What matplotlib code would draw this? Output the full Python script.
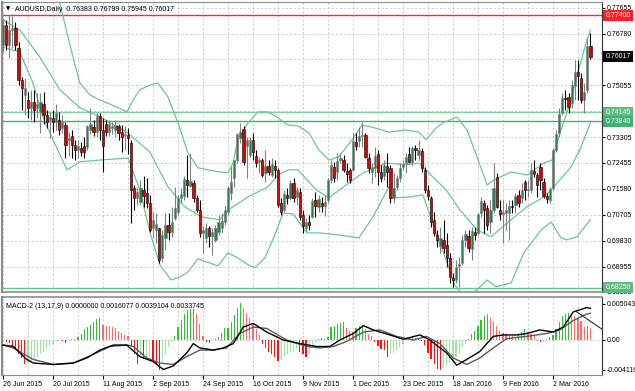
import numpy as np
import matplotlib.pyplot as plt
import matplotlib.transforms as mtransforms

plt.rcParams['font.family'] = ['Liberation Sans', 'DejaVu Sans']

# ---- AUDUSD daily candles ----
opens = [0.7641, 0.7708, 0.7641, 0.7691, 0.7698, 0.7631, 0.7523, 0.7473, 0.7456, 0.7429,
         0.7449, 0.7429, 0.7416, 0.7443, 0.7406, 0.7389, 0.7396, 0.7382, 0.7389, 0.7362,
         0.7372, 0.7322, 0.7335, 0.7305, 0.7288, 0.7295, 0.7301, 0.7298, 0.7355, 0.7365,
         0.7348, 0.7402, 0.7355, 0.7375, 0.7348, 0.7362, 0.7355, 0.7369, 0.7348, 0.7338,
         0.7338, 0.7312, 0.7160, 0.7127, 0.7113, 0.7154, 0.7144, 0.7110, 0.7026, 0.7019,
         0.7026, 0.6925, 0.6992, 0.7036, 0.7012, 0.7060, 0.7080, 0.7127, 0.7133, 0.7187,
         0.7167, 0.7177, 0.7127, 0.7086, 0.7009, 0.6992, 0.7026, 0.6999, 0.6986, 0.7012,
         0.7026, 0.7046, 0.7080, 0.7144, 0.7194, 0.7254, 0.7328, 0.7359, 0.7301, 0.7271,
         0.7322, 0.7268, 0.7248, 0.7254, 0.7211, 0.7234, 0.7204, 0.7234, 0.7221, 0.7110,
         0.7086, 0.7137, 0.7127, 0.7177, 0.7130, 0.7147, 0.7070, 0.7026, 0.7046, 0.7063,
         0.7120, 0.7097, 0.7110, 0.7100, 0.7120, 0.7187, 0.7231, 0.7214, 0.7254, 0.7254,
         0.7217, 0.7221, 0.7221, 0.7315, 0.7318, 0.7335, 0.7338, 0.7261, 0.7214, 0.7228,
         0.7275, 0.7214, 0.7201, 0.7234, 0.7228, 0.7127, 0.7164, 0.7194, 0.7231, 0.7244,
         0.7275, 0.7248, 0.7295, 0.7271, 0.7285, 0.7221, 0.7154, 0.7127, 0.7053, 0.7002,
         0.6965, 0.6986, 0.6969, 0.6925, 0.6858, 0.6851, 0.6898, 0.6908, 0.6986, 0.6999,
         0.6955, 0.7012, 0.7009, 0.7076, 0.7110, 0.7093, 0.7046, 0.7086, 0.7197, 0.7086,
         0.7073, 0.7076, 0.7076, 0.7100, 0.7103, 0.7137, 0.7127, 0.7180, 0.7154, 0.7154,
         0.7217, 0.7204, 0.7231, 0.7180, 0.7133, 0.7120, 0.7160, 0.7288, 0.7345, 0.7412,
         0.7463, 0.7466, 0.7446, 0.7503, 0.7550, 0.7530, 0.7456, 0.7490, 0.76383]
highs = [0.7732, 0.7725, 0.7742, 0.7738, 0.7718, 0.7651, 0.7533, 0.7530, 0.7483, 0.7490,
         0.7490, 0.7480, 0.7480, 0.7483, 0.7422, 0.7416, 0.7422, 0.7443, 0.7416, 0.7406,
         0.7382, 0.7348, 0.7355, 0.7322, 0.7322, 0.7315, 0.7332, 0.7372, 0.7429, 0.7389,
         0.7412, 0.7412, 0.7396, 0.7389, 0.7389, 0.7382, 0.7389, 0.7375, 0.7372, 0.7369,
         0.7362, 0.7322, 0.7170, 0.7164, 0.7187, 0.7201, 0.7194, 0.7137, 0.7080, 0.7076,
         0.7026, 0.7019, 0.7076, 0.7076, 0.7097, 0.7164, 0.7137, 0.7160, 0.7201, 0.7271,
         0.7278, 0.7187, 0.7137, 0.7120, 0.7033, 0.7043, 0.7033, 0.7026, 0.7036, 0.7070,
         0.7076, 0.7100, 0.7167, 0.7231, 0.7254, 0.7345, 0.7379, 0.7369, 0.7332, 0.7332,
         0.7345, 0.7288, 0.7265, 0.7261, 0.7288, 0.7254, 0.7261, 0.7254, 0.7228, 0.7127,
         0.7154, 0.7160, 0.7187, 0.7194, 0.7164, 0.7160, 0.7086, 0.7060, 0.7070, 0.7127,
         0.7147, 0.7137, 0.7130, 0.7137, 0.7194, 0.7254, 0.7248, 0.7278, 0.7278, 0.7271,
         0.7244, 0.7228, 0.7345, 0.7345, 0.7365, 0.7382, 0.7345, 0.7278, 0.7244, 0.7298,
         0.7288, 0.7238, 0.7254, 0.7278, 0.7238, 0.7211, 0.7204, 0.7244, 0.7254, 0.7278,
         0.7298, 0.7301, 0.7305, 0.7322, 0.7295, 0.7231, 0.7170, 0.7133, 0.7080, 0.7019,
         0.7029, 0.7053, 0.7009, 0.6942, 0.6875, 0.6918, 0.6928, 0.7002, 0.7019, 0.7019,
         0.7029, 0.7029, 0.7076, 0.7130, 0.7120, 0.7103, 0.7120, 0.7244, 0.7211, 0.7120,
         0.7120, 0.7110, 0.7120, 0.7120, 0.7144, 0.7154, 0.7177, 0.7187, 0.7187, 0.7244,
         0.7254, 0.7211, 0.7244, 0.7194, 0.7144, 0.7164, 0.7295, 0.7355, 0.7429, 0.7480,
         0.7490, 0.7480, 0.7523, 0.7590, 0.7590, 0.7547, 0.7513, 0.7664, 0.76799]
lows = [0.7617, 0.7624, 0.7597, 0.7631, 0.7624, 0.7506, 0.7422, 0.7406, 0.7396, 0.7389,
        0.7382, 0.7396, 0.7345, 0.7375, 0.7362, 0.7328, 0.7348, 0.7355, 0.7338, 0.7345,
        0.7261, 0.7268, 0.7261, 0.7254, 0.7261, 0.7268, 0.7261, 0.7288, 0.7342, 0.7335,
        0.7332, 0.7322, 0.7214, 0.7335, 0.7335, 0.7342, 0.7332, 0.7322, 0.7281, 0.7288,
        0.7275, 0.7043, 0.7086, 0.7103, 0.7103, 0.7097, 0.7093, 0.7012, 0.6992, 0.6975,
        0.6908, 0.6912, 0.6952, 0.6986, 0.6996, 0.7053, 0.7070, 0.7110, 0.7120, 0.7130,
        0.7164, 0.7113, 0.7080, 0.6996, 0.6942, 0.6975, 0.6962, 0.6935, 0.6979, 0.7002,
        0.7009, 0.7036, 0.7070, 0.7120, 0.7164, 0.7244, 0.7312, 0.7238, 0.7194, 0.7265,
        0.7254, 0.7231, 0.7211, 0.7197, 0.7180, 0.7204, 0.7197, 0.7194, 0.7097, 0.7070,
        0.7080, 0.7107, 0.7120, 0.7113, 0.7103, 0.7053, 0.7009, 0.7012, 0.7019, 0.7060,
        0.7063, 0.7080, 0.7080, 0.7066, 0.7110, 0.7177, 0.7180, 0.7187, 0.7244, 0.7214,
        0.7180, 0.7177, 0.7217, 0.7288, 0.7298, 0.7298, 0.7261, 0.7211, 0.7177, 0.7197,
        0.7170, 0.7180, 0.7187, 0.7164, 0.7110, 0.7110, 0.7154, 0.7180, 0.7221, 0.7211,
        0.7244, 0.7238, 0.7254, 0.7254, 0.7214, 0.7144, 0.7120, 0.7029, 0.6999, 0.6962,
        0.6942, 0.6942, 0.6895, 0.6841, 0.6828, 0.6841, 0.6828, 0.6902, 0.6962, 0.6945,
        0.6918, 0.6986, 0.7002, 0.7063, 0.7009, 0.7019, 0.7009, 0.7076, 0.7093, 0.7053,
        0.6975, 0.7019, 0.6986, 0.7076, 0.7076, 0.7097, 0.7110, 0.7120, 0.7130, 0.7144,
        0.7197, 0.7130, 0.7154, 0.7127, 0.7110, 0.7110, 0.7154, 0.7281, 0.7332, 0.7406,
        0.7422, 0.7412, 0.7429, 0.7456, 0.7456, 0.7446, 0.7412, 0.7480, 0.75945]
closes = [0.7708, 0.7641, 0.7691, 0.7698, 0.7641, 0.7523, 0.7496, 0.7496, 0.7429, 0.7449,
          0.7422, 0.7443, 0.7449, 0.7406, 0.7382, 0.7399, 0.7382, 0.7412, 0.7355, 0.7382,
          0.7305, 0.7328, 0.7305, 0.7288, 0.7301, 0.7281, 0.7281, 0.7369, 0.7375, 0.7348,
          0.7402, 0.7355, 0.7301, 0.7348, 0.7375, 0.7369, 0.7372, 0.7345, 0.7332, 0.7342,
          0.7328, 0.7154, 0.7127, 0.7147, 0.7160, 0.7133, 0.7110, 0.7019, 0.7053, 0.7039,
          0.6918, 0.7002, 0.7036, 0.7012, 0.7046, 0.7093, 0.7127, 0.7140, 0.7191, 0.7170,
          0.7184, 0.7127, 0.7086, 0.7009, 0.7019, 0.7026, 0.6999, 0.7012, 0.7026, 0.7046,
          0.7049, 0.7086, 0.7160, 0.7180, 0.7254, 0.7342, 0.7348, 0.7248, 0.7322, 0.7322,
          0.7281, 0.7244, 0.7254, 0.7204, 0.7234, 0.7214, 0.7241, 0.7221, 0.7103, 0.7080,
          0.7140, 0.7127, 0.7177, 0.7127, 0.7154, 0.7063, 0.7033, 0.7046, 0.7036, 0.7117,
          0.7100, 0.7123, 0.7100, 0.7113, 0.7187, 0.7238, 0.7194, 0.7251, 0.7261, 0.7221,
          0.7207, 0.7187, 0.7318, 0.7301, 0.7335, 0.7338, 0.7265, 0.7228, 0.7231, 0.7268,
          0.7214, 0.7194, 0.7238, 0.7214, 0.7127, 0.7160, 0.7194, 0.7228, 0.7241, 0.7265,
          0.7248, 0.7295, 0.7288, 0.7288, 0.7228, 0.7154, 0.7133, 0.7046, 0.7009, 0.6986,
          0.6992, 0.6959, 0.6925, 0.6861, 0.6851, 0.6895, 0.6905, 0.6986, 0.7006, 0.6959,
          0.7016, 0.7002, 0.7073, 0.7117, 0.7086, 0.7036, 0.7086, 0.7160, 0.7097, 0.7073,
          0.7080, 0.7086, 0.7100, 0.7097, 0.7133, 0.7110, 0.7154, 0.7154, 0.7157, 0.7221,
          0.7207, 0.7170, 0.7187, 0.7133, 0.7123, 0.7157, 0.7288, 0.7342, 0.7409, 0.7463,
          0.7459, 0.7432, 0.7506, 0.7550, 0.7537, 0.7456, 0.7483, 0.7637, 0.76017]

# Bollinger bands, read at bar positions
bb_up_idx = [0, 6, 12, 16, 18.2, 20.5, 22.4, 24.6, 27.8, 31, 36.5, 39.7, 41.6, 43.8, 47, 49.6,
             52.8, 56, 59.2, 62.4, 65.6, 69.4, 72, 73.6, 75.2, 78.4, 81.6, 84.8, 88, 91.2,
             94.4, 97.9, 101.1, 104.3, 107.5, 111.7, 114.9, 118.1, 123.5, 129, 133.1, 135.4,
             138.6, 140.8, 145.3, 148.5, 151.7, 154.9, 157.1, 162.6, 167.7, 173.1, 175.7,
             178.6, 181.8, 183.7, 186.9, 188]
bb_up = [0.7880, 0.7905, 0.7900, 0.7830, 0.7782, 0.7681, 0.7600, 0.7513, 0.7473, 0.7456,
         0.7432, 0.7416, 0.7456, 0.7490, 0.7506, 0.7513, 0.7466, 0.7379, 0.7278, 0.7228,
         0.7221, 0.7214, 0.7211, 0.7244, 0.7322, 0.7379, 0.7416, 0.7416, 0.7396, 0.7372,
         0.7369, 0.7345, 0.7288, 0.7254, 0.7265, 0.7322, 0.7372, 0.7365, 0.7348, 0.7355,
         0.7348, 0.7322, 0.7362, 0.7379, 0.7399, 0.7355, 0.7265, 0.7170, 0.7187, 0.7214,
         0.7204, 0.7244, 0.7254, 0.7355, 0.7456, 0.7540, 0.7658, 0.7691]
bb_mid_idx = [0, 5.4, 11.8, 18.2, 24.6, 31, 35.8, 40, 47, 52.8, 58.2, 63.4, 69.4, 72, 78.4,
              84.8, 88, 91.2, 94.4, 100.2, 104.3, 110.7, 115.2, 122.6, 129, 133.1, 137.6,
              141.8, 146.2, 151.7, 156.2, 162.6, 167.7, 173.1, 176.3, 181.8, 185, 188]
bb_mid = [0.7725, 0.7691, 0.7600, 0.7490, 0.7430, 0.7400, 0.7370, 0.7345, 0.7281, 0.7164,
          0.7097, 0.7063, 0.7053, 0.7086, 0.7130, 0.7164, 0.7204, 0.7221, 0.7221, 0.7154,
          0.7127, 0.7177, 0.7211, 0.7244, 0.7238, 0.7244, 0.7197, 0.7154, 0.7087, 0.7019,
          0.6996, 0.7053, 0.7097, 0.7130, 0.7164, 0.7231, 0.7298, 0.7379]
bb_low_idx = [0, 5.4, 9.6, 12.8, 16, 20.5, 24.6, 31, 40, 43.8, 47, 50.2, 53.8, 56.6, 59.2,
              62.4, 66.2, 68.8, 72, 75.2, 78.4, 80.6, 83.8, 87, 89.6, 92.8, 97.3, 101.4,
              107.8, 113.9, 118.4, 123.5, 125.8, 130.2, 134.4, 138.6, 141.8, 144.6, 147.8,
              151.7, 154.9, 157.8, 162.6, 166.7, 172.2, 175.4, 178.6, 180.5, 183.7, 188]
bb_low = [0.7634, 0.7617, 0.7513, 0.7399, 0.7322, 0.7221, 0.7248, 0.7254, 0.7261, 0.7154,
          0.7012, 0.6902, 0.6851, 0.6861, 0.6878, 0.6922, 0.6908, 0.6898, 0.6942, 0.6925,
          0.6902, 0.6892, 0.6925, 0.7002, 0.7076, 0.7073, 0.7009, 0.7009, 0.7002, 0.6992,
          0.7063, 0.7164, 0.7127, 0.7130, 0.7137, 0.7009, 0.6918, 0.6834, 0.6791, 0.6818,
          0.6851, 0.6828, 0.6841, 0.6942, 0.7019, 0.7046, 0.6992, 0.6986, 0.6996, 0.7053]

# MACD-2 (values in units of 0.001)
macd_hist = [-0.2, -0.3, -0.4, -0.8, -1.3, -1.9, -2.5, -3.4, -3.0, -2.9,
             -2.6, -2.4, -2.0, -1.6, -1.2, -0.8, -0.5, -0.1, 0.05, -0.1,
             -0.4, -0.1, 0.1, 0.2, 0.4, 0.9, 1.5, 1.8, 2.1, 2.5,
             2.9, 3.0, 2.1, 2.0, 1.9, 1.8, 1.6, 1.3, 1.0, 0.7,
             0.6, -0.9, -2.0, -3.4, -2.5, -2.6, -2.6, -2.5, -3.0, -3.5,
             -4.1, -3.0, -2.0, -1.0, -0.3, 0.6, 1.8, 2.8, 3.6, 4.1,
             4.3, 4.3, 3.6, 2.2, 0.6, -0.3, -0.4, -0.2, 0.1, 0.4,
             1.0, 1.6, 1.6, 2.5, 3.5, 4.5, 5.2, 4.4, 3.8, 3.0,
             2.2, 1.5, 0.7, -0.5, -1.1, -1.6, -2.0, -2.4, -2.9, -2.8,
             -2.2, -2.0, -1.7, -1.5, -1.3, -1.6, -2.0, -2.4, -1.9, -1.0,
             -0.4, 0.1, 0.3, 0.2, 0.4, 1.8, 1.9, 2.2, 2.3, 2.5,
             1.6, 1.3, 1.1, 1.6, 2.0, 2.1, 1.5, 0.9, 0.6, -0.3,
             -0.9, -1.2, -1.4, -2.3, -1.9, -1.8, -1.5, -1.0, -0.5, 0.2,
             0.4, 0.5, 0.3, 0.1, -0.2, -0.7, -1.8, -2.6, -3.4, -4.0,
             -4.1, -3.9, -3.6, -3.2, -2.9, -2.4, -2.0, -1.0, -0.5, 0.2,
             0.8, 1.2, 2.0, 2.8, 3.3, 3.6, 3.0, 2.6, 2.0, 1.3,
             1.0, 0.8, 0.6, 0.5, 0.4, 0.9, 1.1, 1.5, 1.1, 0.9,
             0.7, -0.1, -0.3, -0.2, 0.1, 0.4, 0.7, 1.5, 2.5, 3.4,
             3.6, 3.8, 3.5, 3.4, 3.0, 2.6, 1.8, 1.9, 1.6]
macd_idx = [0, 3.3, 7.6, 9.7, 16.1, 22.5, 26.8, 31, 35.3, 39.6, 43.8, 48.1, 51.3, 54.5,
            58.8, 60.9, 63, 67.3, 70.5, 73.7, 76.9, 80.1, 84.4, 89.7, 95, 100.4, 104.6,
            107.8, 112.1, 115.3, 118.5, 123.8, 128.1, 133.4, 136.6, 142, 145.2, 148.4,
            152.6, 156.9, 160.1, 164.4, 167.6, 171.8, 176.1, 179.3, 182.5, 186.8, 188]
macd_main = [-0.7, -0.9, -2.7, -3.2, -3.4, -3.2, -2.5, -1.4, -0.7, -0.7, -2.3, -3.0, -4.1,
             -3.6, -1.8, -0.5, -1.1, -1.4, -1.1, -0.5, 1.8, 2.3, 1.1, 0.0, -0.5, -0.9, -0.9,
             0.0, 0.9, 2.0, 1.4, 0.7, 0.1, 0.7, 0.0, -1.8, -3.5, -2.7, -1.6, 0.5, 0.7, 0.7,
             0.9, 1.4, 1.1, 1.8, 3.9, 4.5, 4.4]
signal_idx = [0, 3.3, 9.7, 16.1, 22.5, 28.9, 34.2, 39.6, 41.7, 46, 50.2, 54.5, 58.8, 63,
              67.3, 71.6, 75.8, 80.1, 84.4, 90.8, 97.2, 101.4, 105.7, 110, 115.3, 120.6,
              126, 131.3, 135.5, 139.8, 144.1, 148.4, 152.6, 156.9, 161.2, 167.6, 174,
              178.2, 182.5, 186.8, 188]
macd_signal = [-0.7, -1.1, -2.7, -3.4, -3.2, -2.0, -0.9, -0.7, -0.9, -2.5, -3.2, -3.4, -2.3,
               -1.4, -1.4, -1.1, 0.9, 1.8, 1.6, 0.0, -0.9, -1.1, -0.9, -0.2, 1.1, 1.4, 0.5,
               0.0, 0.5, -0.5, -2.5, -3.4, -2.5, -1.1, 0.2, 0.5, 0.9, 1.4, 2.7, 3.6, 3.7]
# descending line that runs to the right edge of the MACD window
tail_idx = [183.6, 191.7]
tail_vals = [3.9, 1.5]

date_idx = [0, 16, 32, 48, 64, 80, 96, 112, 128, 144, 160, 176]
date_labels = ['26 Jun 2015', '20 Jul 2015', '11 Aug 2015', '2 Sep 2015', '24 Sep 2015',
               '16 Oct 2015', '9 Nov 2015', '1 Dec 2015', '23 Dec 2015', '18 Jan 2016',
               '9 Feb 2016', '2 Mar 2016']

price_ticks = [0.77655, 0.76780, 0.75930, 0.75055, 0.74180, 0.73305, 0.72455, 0.71580,
               0.70705, 0.69830, 0.68955, 0.68105]
price_labels = ['0.77655', '0.76780', '', '0.75055', '', '0.73305', '0.72455', '0.71580',
                '0.70705', '0.69830', '0.68955', '0.68105']

levels = [0.77400, 0.74145, 0.73840, 0.68250]
level_colors = ['#ff2a2a', '#86cfa2', '#3cb371', '#63c78c']
box_values = [0.77400, 0.76017, 0.74145, 0.73840, 0.68250]
box_texts = ['0.77400', '0.76017', '0.74145', '0.73840', '0.68250']
box_colors = ['#ff1f1f', '#000000', '#5dbb80', '#3cb371', '#5dbb80']

# ---- figure ----
W, H = 635, 391
fig = plt.figure(figsize=(W / 100, H / 100), dpi=100)
ax = fig.add_axes([2 / W, 1 - 292 / H, 600 / W, 290 / H])
axm = fig.add_axes([2 / W, 1 - 375 / H, 600 / W, 78 / H])

x = np.arange(len(closes))
o = np.array(opens)
c = np.array(closes)
up = c >= o

grid_kw = dict(color='#c4c4c4', lw=0.6, ls=(0, (2.5, 2.5)), zorder=0)
for gx in range(0, 189, 8):
    ax.axvline(gx, **grid_kw)
    axm.axvline(gx, **grid_kw)
for gy in price_ticks:
    ax.axhline(gy, **grid_kw)

# level lines
for lv, lc in zip(levels, level_colors):
    ax.axhline(lv, color=lc, lw=1.0, zorder=1)

# bollinger bands
band_col = '#66ca90'
ax.plot(bb_up_idx, bb_up, color=band_col, lw=0.9, zorder=2)
ax.plot(bb_mid_idx, bb_mid, color=band_col, lw=0.9, zorder=2)
ax.plot(bb_low_idx, bb_low, color=band_col, lw=0.9, zorder=2)

# candles
wick_cols = np.where(up, '#808080', '#000000')
ax.vlines(x, lows, highs, colors=wick_cols, lw=0.8, zorder=3)
body_cols = np.where(up, '#2e7d52', '#e00000')
ax.bar(x, c - o, bottom=o, width=0.72, color=body_cols, edgecolor=wick_cols,
       linewidth=0.4, zorder=4)

ax.set_xlim(-0.32, 191.7)
ax.set_ylim(0.68109, 0.77853)
ax.yaxis.tick_right()
ax.set_yticks(price_ticks)
ax.set_yticklabels(price_labels)
ax.tick_params(axis='y', direction='out', length=2, pad=1.5, labelsize=5, colors='black')
ax.tick_params(axis='x', length=0, labelbottom=False)

trans = mtransforms.blended_transform_factory(ax.transAxes, ax.transData)
for bv, bt, bc in zip(box_values, box_texts, box_colors):
    ax.text(1.006, bv, bt, transform=trans, ha='left', va='center', fontsize=5,
            color='white', zorder=10, clip_on=False,
            bbox=dict(boxstyle='square,pad=0.32', fc=bc, ec='none'))

for s in ['left', 'top', 'bottom']:
    ax.spines[s].set_color('#8c8c8c')
ax.spines['left'].set_linewidth(1.5)
ax.spines['bottom'].set_linewidth(1.2)
ax.spines['right'].set_color('#303030')

ax.text(0.006, 0.975, '\u25bc', transform=ax.transAxes, fontsize=4,
        family='DejaVu Sans', va='center', ha='left')
ax.text(0.022, 0.975, 'AUDUSD,Daily  0.76383 0.76799 0.75945 0.76017',
        transform=ax.transAxes, fontsize=5, va='center', ha='left')

# ---- MACD pane ----
h = np.array(macd_hist)
prev = np.concatenate([[h[0]], h[:-1]])
rising = h >= prev
hist_cols = np.where(rising, np.where(h >= 0, '#2fc42f', '#9ee69e'),
                     np.where(h >= 0, '#ff6a6a', '#ff1010'))
axm.bar(x, h, width=0.38, color=hist_cols, zorder=2)
axm.axhline(0, color='#c4c4c4', lw=0.6, ls=(0, (2.5, 2.5)), zorder=1)
axm.plot(signal_idx, macd_signal, color='#5a5a5a', lw=1.0, zorder=3)
axm.plot(macd_idx, macd_main, color='#000000', lw=1.0, zorder=4)
axm.plot(tail_idx, tail_vals, color='#2a2a2a', lw=0.8, zorder=3)

axm.set_xlim(-0.32, 191.7)
axm.set_ylim(-4.86, 5.97)
axm.yaxis.tick_right()
axm.set_yticks([5.043, 0.0, -4.116])
axm.set_yticklabels(['0.005043', '0.00', '-0.004116'])
axm.tick_params(axis='y', direction='out', length=2, pad=1.5, labelsize=5)
axm.set_xticks(date_idx)
axm.set_xticklabels(date_labels)
axm.tick_params(axis='x', direction='out', length=3, pad=1.5, labelsize=5)
for lbl in axm.get_xticklabels():
    lbl.set_ha('left')
for s in ['left', 'top', 'bottom']:
    axm.spines[s].set_color('#8c8c8c')
axm.spines['left'].set_linewidth(1.5)
axm.spines['top'].set_linewidth(1.2)
axm.spines['right'].set_color('#303030')
axm.text(0.006, 0.88, 'MACD-2 (13,17,9) 0.0000000 0.0016077 0.0039104 0.0033745',
         transform=axm.transAxes, fontsize=5, va='center', ha='left')

fig.savefig('out.png', dpi=100)
